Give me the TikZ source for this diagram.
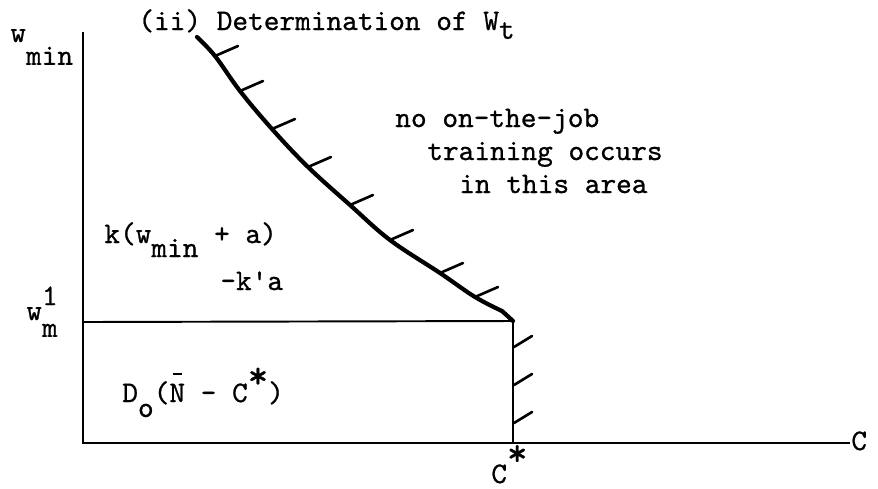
\documentclass[tikz,border=0pt]{standalone}
\usepackage{fontspec}
\setmonofont{lmmono10-regular.otf}[FakeBold=0.8]
\usetikzlibrary{positioning}

\newcommand{\lowr}[2]{\raisebox{-#1}{#2}}
\newcommand{\starup}[1]{\raisebox{#1}{\scalebox{1.3}{*}}}
\newcommand{\barN}{\makebox[0pt][l]{\hspace{2pt}\rule[15.5pt]{5pt}{0.8pt}}N}

\begin{document}
\begin{tikzpicture}[x=0.02cm, y=-0.02cm,
  axis/.style={line width=1.1pt},
  border/.style={line width=2.4pt, line cap=round, line join=round},
  hatch/.style={line width=1.5pt, line cap=round},
  lbl/.style={anchor=base west, inner sep=0pt, font=\ttfamily\fontsize{17}{20}\selectfont}
]
\useasboundingbox (0,0) rectangle (878,488);

\coordinate (top) at (83,32);
\coordinate (O) at (83,443);
\coordinate (xend) at (850,443);
\coordinate (wm) at (83,322);
\coordinate (kink) at (513,321);
\coordinate (cstar) at (513,443);

\draw[axis] (top) -- (O) -- (xend);
\draw[axis] (wm) -- (kink);
\draw[axis, line width=1.4pt] (kink) -- (cstar);
\draw[border] plot[smooth, tension=0.6] coordinates {(197,37) (215,56) (240,91) (272,129) (308,167) (350,205) (390,240) (440,273) (475,297) (502,311)} -- (kink);

\foreach \x/\y in {215/56, 240/91, 272/129, 308/167, 350/205, 390/240, 440/273, 475/297}
  \draw[hatch] (\x,\y) -- ++(23,-10);
\foreach \y in {347, 385, 423}
  \draw[hatch] (514,\y) -- ++(18,-11);

\node[lbl] (title) at (138,30) {(ii) Determination of W\lowr{5pt}{t}};
\node[lbl] (wmin) at (10,42) {w\lowr{13pt}{min}};
\node[lbl] (wmone) at (26,320) {w\rlap{\raisebox{8.5pt}{1}}\lowr{9.6pt}{m}};
\node[lbl] (kwmin) at (104,243) {k(w\lowr{8pt}{min} + a)};
\node[lbl] (ka) at (220,290) {-k\textquotesingle a};
\node[lbl] (dnc) at (122,402) {D\lowr{8.5pt}{o}(\barN{} - C\starup{8pt})};
\node[lbl] (noteone) at (395,127) {no on-the-job};
\node[lbl] (notetwo) at (427,160) {training occurs};
\node[lbl] (notethree) at (459,193) {in this area};
\node[lbl] (clabel) at (851,450) {C};
\node[lbl] (cslabel) at (491,483) {C\starup{10pt}};
\end{tikzpicture}
\end{document}
